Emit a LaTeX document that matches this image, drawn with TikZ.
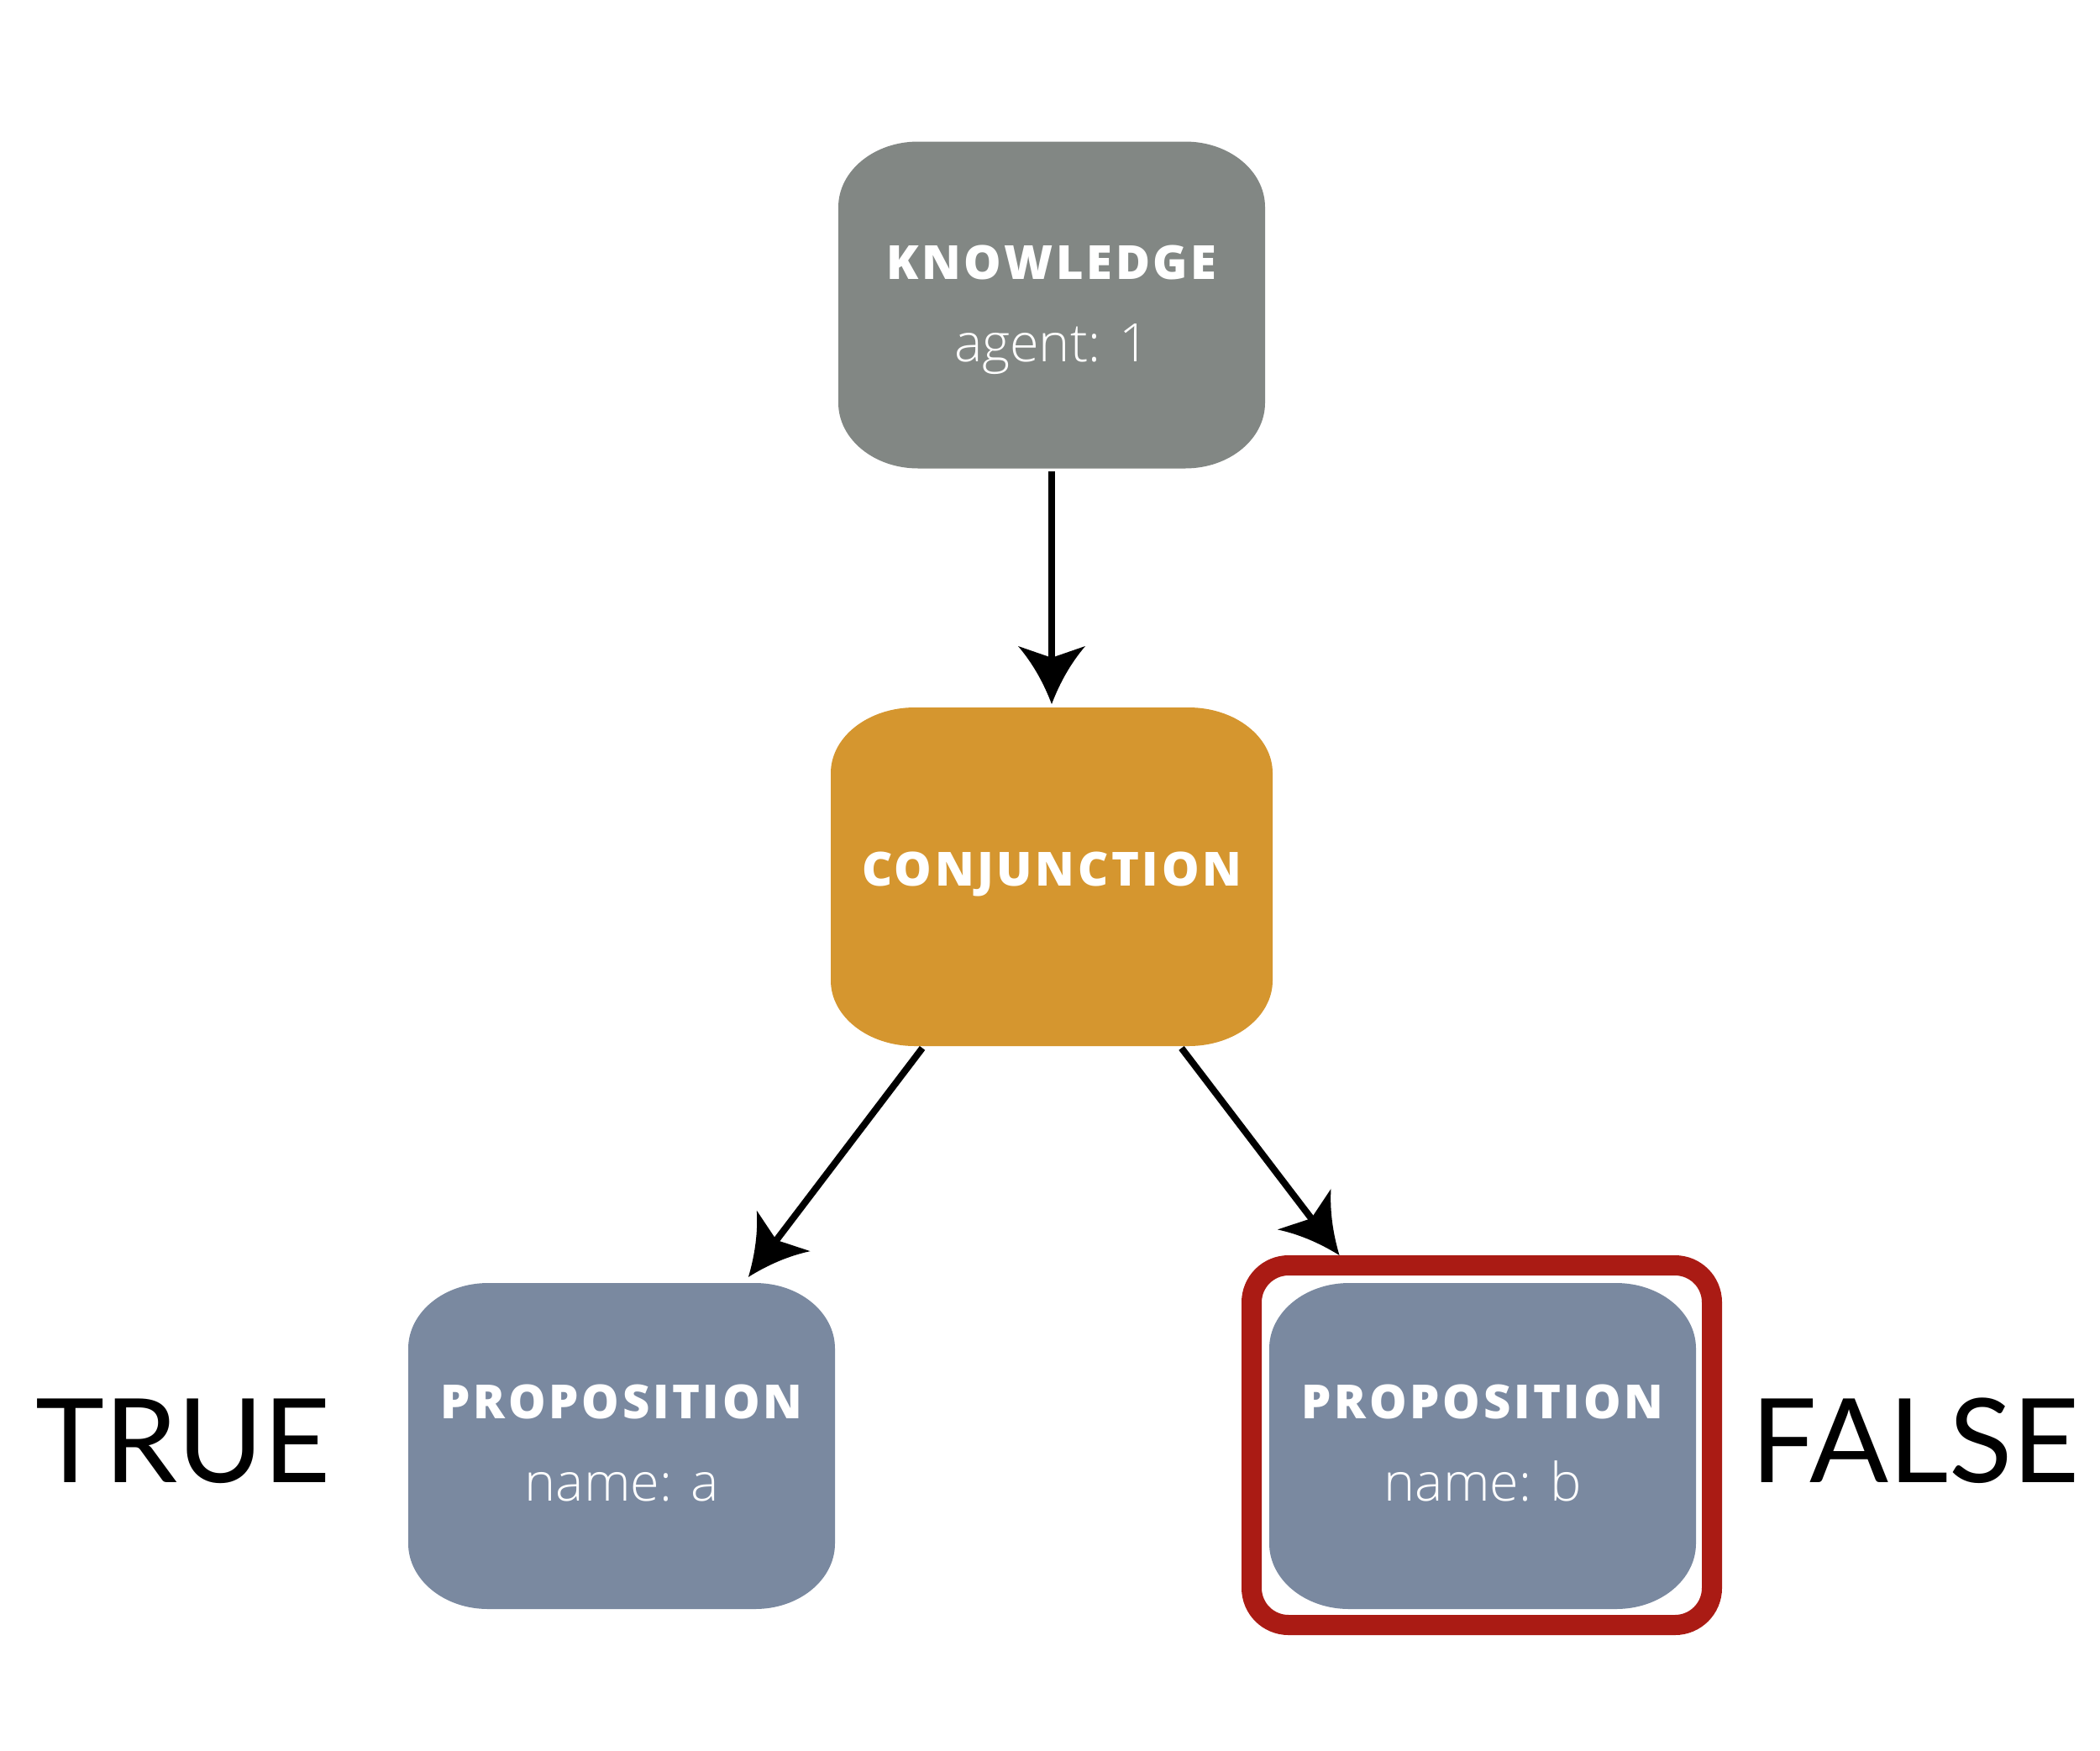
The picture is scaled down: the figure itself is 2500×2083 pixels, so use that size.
\documentclass[tikz,border=0pt]{standalone}
\usepackage{fontspec}
\setmainfont{Open Sans}
\IfFontExistsTF{Open Sans Light}{\newfontfamily\bodyfont{Open Sans Light}}{\newfontfamily\bodyfont{Open Sans}}
\IfFontExistsTF{Open Sans ExtraBold}
  {\newfontfamily\headfont[LetterSpace=6.5]{Open Sans ExtraBold}\def\headweight{}}
  {\IfFontExistsTF{Open Sans Extrabold}
    {\newfontfamily\headfont[LetterSpace=6.5]{Open Sans Extrabold}\def\headweight{}}
    {\newfontfamily\headfont[LetterSpace=8]{Open Sans}\def\headweight{\bfseries}}}
\newfontfamily\labfont{Lato}
\usetikzlibrary{arrows.meta}
\definecolor{kgrey}{HTML}{828784}
\definecolor{corange}{HTML}{D5962F}
\definecolor{pslate}{HTML}{7A89A0}
\definecolor{selred}{HTML}{AA1B14}
\pgfdeclarearrow{
  name = CurvedVee,
  parameters = {\the\pgfarrowlength,\the\pgfarrowwidth},
  setup code = {
    \pgfarrowssettipend{0pt}
    \pgfarrowssetbackend{-\pgfarrowlength}
    \pgfarrowssetlineend{-0.7\pgfarrowlength}
    \pgfarrowssavethe\pgfarrowlength
    \pgfarrowssavethe\pgfarrowwidth
  },
  drawing code = {
    \pgfpathmoveto{\pgfpointorigin}
    \pgfpathquadraticcurveto{\pgfpoint{-0.58\pgfarrowlength}{0.19\pgfarrowwidth}}{\pgfpoint{-\pgfarrowlength}{0.5\pgfarrowwidth}}
    \pgfpathlineto{\pgfpoint{-0.8\pgfarrowlength}{0pt}}
    \pgfpathlineto{\pgfpoint{-\pgfarrowlength}{-0.5\pgfarrowwidth}}
    \pgfpathquadraticcurveto{\pgfpoint{-0.58\pgfarrowlength}{-0.19\pgfarrowwidth}}{\pgfpointorigin}
    \pgfpathclose
    \pgfusepathqfill
  },
  defaults = {length = 69pt, width = 80pt}
}
% elliptical-corner box: cx, cy, w, h, rx, ry, style
\newcommand\ebox[7]{%
  \fill[#7] (#1,#2) ++({-#3/2+#5},{-#4/2})
    -- ++({#3-2*#5},0) arc[start angle=-90,end angle=0,x radius=#5,y radius=#6]
    -- ++(0,{#4-2*#6}) arc[start angle=0,end angle=90,x radius=#5,y radius=#6]
    -- ++({-#3+2*#5},0) arc[start angle=90,end angle=180,x radius=#5,y radius=#6]
    -- ++(0,{-#4+2*#6}) arc[start angle=180,end angle=270,x radius=#5,y radius=#6]
    -- cycle;}
\tikzset{
  boxnode/.style={shape=rectangle, inner sep=0pt, outer sep=0pt},
  head/.style={font=\headfont\headweight\fontsize{56}{60}\selectfont, text=white, anchor=base, inner sep=0pt},
  body/.style={font=\bodyfont\fontsize{63}{70}\selectfont, text=white, anchor=base, inner sep=0pt},
  tf/.style={font=\labfont\fontsize{139}{150}\selectfont, text=black, anchor=base, inner sep=0pt},
  conn/.style={line width=8pt, -{CurvedVee}, shorten <=3pt, shorten >=4pt},
  sel/.style={draw=selred, line width=24pt, rounded corners=44pt, inner sep=0pt,
    minimum width=548pt, minimum height=428pt}
}
\begin{document}
\begin{tikzpicture}[x=1pt,y=-1pt]
\useasboundingbox (0,0) rectangle (2500,2083);
% box backgrounds
\ebox{1252}{363}{508}{389}{95}{78}{kgrey}
\ebox{1252}{1043.5}{526}{403}{100}{78}{corange}
\ebox{740}{1721}{508}{388}{95}{78}{pslate}
\ebox{1765}{1721}{508}{388}{95}{78}{pslate}
% nodes
\node[boxnode, minimum width=508pt, minimum height=389pt] (know) at (1252,363) {};
\node[boxnode, minimum width=526pt, minimum height=403pt] (conj) at (1252,1043.5) {};
\node[boxnode, minimum width=508pt, minimum height=388pt] (pa) at (740,1721) {};
\node[boxnode, minimum width=508pt, minimum height=388pt] (pb) at (1765,1721) {};
\node[sel] (bsel) at (1764,1720) {};
% texts
\node[head] (know-h) at (1252,332) {KNOWLEDGE};
\node[body] (know-t) at (1252,430) {agent: 1};
\node[head] (conj-h) at (1252,1054) {CONJUNCTION};
\node[head] (pa-h) at (740,1688) {PROPOSITION};
\node[body] (pa-t) at (740,1786) {name: a};
\node[head] (pb-h) at (1765,1688) {PROPOSITION};
\node[body] (pb-t) at (1765,1786) {name: b};
\node[tf] (true) at (218,1764) {TRUE};
\node[tf] (false) at (2280,1764) {FALSE};
% connectors
\draw[conn] (know) -- (conj);
\draw[conn, shorten >=9pt] (conj) -- (pa);
\draw[conn, shorten >=0pt] (conj) -- (bsel);
\end{tikzpicture}
\end{document}
